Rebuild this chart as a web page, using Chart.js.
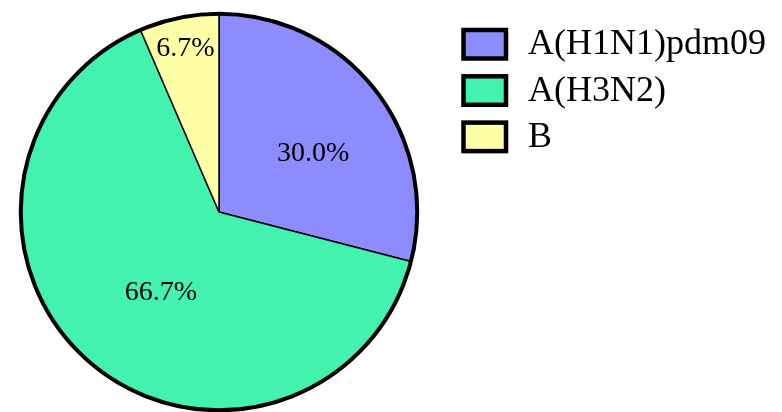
<!DOCTYPE html>
<html>
<head>
<meta charset="utf-8">
<script src="https://cdn.jsdelivr.net/npm/chart.js@4/dist/chart.umd.min.js"></script>
<style>
    html, body { margin: 0; padding: 0; background: #fff; }
    #wrap { width: 782px; height: 412px; position: relative; }
</style>
</head>
<body>
<div id="wrap"><canvas id="pieChart"></canvas></div>
<script>
// Data
const labels = ['A(H1N1)pdm09', 'A(H3N2)', 'B'];
const percents = [30.0, 66.7, 6.7];
const colors = ['#8c8cff', '#44f2b0', '#ffffa8'];

const FONT = '"Liberation Serif", serif';

// label placement: fraction of radius + angle tweak (deg)
const labelPlace = [
    { r: 0.56, da: 5.8 },
    { r: 0.50, da: -4.7 },
    { r: 0.84, da: 0 }
];

// --- thick outer ring + percent labels ---
const pieDecor = {
    id: 'pieDecor',
    afterDatasetsDraw(chart) {
        const ctx = chart.ctx;
        const arcs = chart.getDatasetMeta(0).data;
        const a0 = arcs[0];

        ctx.save();
        ctx.beginPath();
        ctx.arc(a0.x, a0.y, a0.outerRadius, 0, Math.PI * 2);
        ctx.lineWidth = 4;
        ctx.strokeStyle = '#000';
        ctx.stroke();

        ctx.fillStyle = '#000';
        ctx.font = '28px ' + FONT;
        ctx.textAlign = 'center';
        ctx.textBaseline = 'middle';
        arcs.forEach((arc, i) => {
            const p = labelPlace[i];
            const mid = (arc.startAngle + arc.endAngle) / 2 + p.da * Math.PI / 180;
            const r = arc.outerRadius * p.r;
            ctx.fillText(percents[i].toFixed(1) + '%', arc.x + Math.cos(mid) * r, arc.y + Math.sin(mid) * r);
        });
        ctx.restore();
    }
};

// --- legend on the right ---
const sideLegend = {
    id: 'sideLegend',
    afterDraw(chart) {
        const ctx = chart.ctx;
        ctx.save();
        ctx.font = '36px ' + FONT;
        ctx.textBaseline = 'middle';
        ctx.textAlign = 'left';
        labels.forEach((lab, i) => {
            const y = 30 + i * 46.3;
            ctx.fillStyle = colors[i];
            ctx.fillRect(463.5, y, 42.5, 28.5);
            ctx.lineWidth = 4.5;
            ctx.strokeStyle = '#000';
            ctx.strokeRect(463.5, y, 42.5, 28.5);
            ctx.fillStyle = '#000';
            ctx.fillText(lab, 528, y + 15);
        });
        ctx.restore();
    }
};

const ctx = document.getElementById('pieChart').getContext('2d');
const pieChart = new Chart(ctx, {
    type: 'pie',
    data: {
        labels: labels,
        datasets: [{
            data: percents,
            backgroundColor: colors,
            borderColor: '#000',
            borderWidth: 1.5
        }]
    },
    options: {
        responsive: true,
        maintainAspectRatio: false,
        animation: false,
        layout: { padding: { left: 0, right: 344, top: 13, bottom: 1 } },
        plugins: {
            legend: { display: false },
            tooltip: { enabled: false }
        }
    },
    plugins: [pieDecor, sideLegend]
});
</script>
</body>
</html>
